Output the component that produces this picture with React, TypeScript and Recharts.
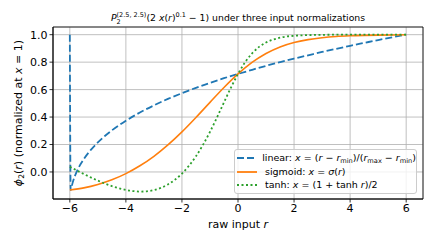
import React from "react";
import {
  LineChart,
  Line,
  XAxis,
  YAxis,
  CartesianGrid,
  ReferenceArea,
  Legend,
  Customized,
} from "recharts";

// values
const rLinear = [-6, -5.97, -5.9, -5.75, -5.5, -5.25, -5, -4.75, -4.5, -4, -3.5, -3, -2.5, -2, -1.5, -1, -0.5, 0, 0.5, 1, 1.5, 2, 2.5, 3, 3.5, 4, 4.5, 5, 5.5, 6];
const phiLinear = [1.0, -0.132, -0.078, 0.004, 0.094, 0.161, 0.215, 0.262, 0.303, 0.373, 0.433, 0.485, 0.532, 0.574, 0.613, 0.649, 0.683, 0.714, 0.744, 0.773, 0.8, 0.826, 0.85, 0.874, 0.897, 0.919, 0.94, 0.961, 0.981, 1.0];

const rSigmoid = [-6, -5.5, -5, -4.5, -4, -3.5, -3, -2.5, -2, -1.5, -1, -0.5, 0, 0.5, 1, 1.5, 2, 2.5, 3, 3.5, 4, 4.5, 5, 5.5, 6];
const phiSigmoid = [-0.132, -0.116, -0.091, -0.057, -0.012, 0.045, 0.114, 0.197, 0.292, 0.397, 0.507, 0.615, 0.714, 0.798, 0.863, 0.911, 0.943, 0.964, 0.978, 0.987, 0.992, 0.995, 0.997, 0.998, 0.999];

const rTanh = [-6, -5.5, -5, -4.5, -4, -3.75, -3.5, -3.25, -3, -2.5, -2, -1.75, -1.5, -1.25, -1, -0.75, -0.5, -0.25, 0, 0.25, 0.5, 0.75, 1, 1.25, 1.5, 1.75, 2, 2.5, 3, 3.5, 4, 5, 6];
const phiTanh = [0.038, -0.015, -0.063, -0.103, -0.131, -0.139, -0.143, -0.141, -0.132, -0.091, -0.012, 0.045, 0.114, 0.197, 0.292, 0.397, 0.507, 0.615, 0.714, 0.798, 0.863, 0.911, 0.943, 0.964, 0.978, 0.987, 0.992, 0.997, 0.999, 1.0, 1.0, 1.0, 1.0];

const xTicks = [-6, -4, -2, 0, 2, 4, 6];
const yTicks = [0, 0.2, 0.4, 0.6, 0.8, 1.0];

const X_DOMAIN: [number, number] = [-6.6, 6.6];
const Y_DOMAIN: [number, number] = [-0.197, 1.056];

const FONT = "DejaVu Sans";
const BLUE = "#1f77b4";
const ORANGE = "#ff7f0e";
const GREEN = "#2ca02c";

const toRows = (rs: number[], ys: number[]) => rs.map((r, i) => ({ r, phi: ys[i] }));
const linearData = toRows(rLinear, phiLinear);
const sigmoidData = toRows(rSigmoid, phiSigmoid);
const tanhData = toRows(rTanh, phiTanh);

const fmtX = (v: number) => (v < 0 ? "\u2212" + Math.abs(v) : String(v));
const fmtY = (v: number) => v.toFixed(1);

const Title = (props: any) => {
  const off = props.offset || { left: 53, width: 370 };
  const cx = off.left + off.width / 2;
  return (
    <text x={cx} y={21} textAnchor="middle" fontFamily={FONT} fontSize={9.3} fill="#000">
      <tspan fontStyle="italic">P</tspan>
      <tspan fontSize={6.5} dy={2.5}>2</tspan>
      <tspan fontSize={6.5} dx={-4.1} dy={-6.7}>(2.5, 2.5)</tspan>
      <tspan dy={4.2}>(2 </tspan>
      <tspan fontStyle="italic">x</tspan>
      <tspan>(</tspan>
      <tspan fontStyle="italic">r</tspan>
      <tspan>)</tspan>
      <tspan fontSize={6.5} dy={-3.6}>0.1</tspan>
      <tspan dy={3.6}> {"\u2212"} 1) under three input normalizations</tspan>
    </text>
  );
};

const XLabel = (props: any) => {
  const vb = props.viewBox;
  const cx = vb.x + vb.width / 2;
  return (
    <text x={cx} y={228} textAnchor="middle" fontFamily={FONT} fontSize={11} fill="#000">
      raw input <tspan fontStyle="italic">r</tspan>
    </text>
  );
};

const YLabel = (props: any) => {
  const vb = props.viewBox;
  const cy = vb.y + vb.height / 2;
  const x = 18;
  return (
    <text
      x={x}
      y={cy}
      transform={`rotate(-90, ${x}, ${cy})`}
      textAnchor="middle"
      dominantBaseline="central"
      fontFamily={FONT}
      fontSize={11}
      fill="#000"
    >
      <tspan fontStyle="italic">{"\u03d5"}</tspan>
      <tspan fontSize={7.7} dy={2.5}>2</tspan>
      <tspan dy={-2.5}>(</tspan>
      <tspan fontStyle="italic">r</tspan>
      <tspan>) (normalized at </tspan>
      <tspan fontStyle="italic">x</tspan>
      <tspan> = 1)</tspan>
    </text>
  );
};

const Sub = ({ children }: { children: React.ReactNode }) => (
  <span style={{ fontSize: "0.7em", position: "relative", top: "0.3em" }}>{children}</span>
);
const I = ({ children }: { children: React.ReactNode }) => <i>{children}</i>;

const legendRows = [
  {
    color: BLUE,
    dash: "7 3",
    text: (
      <>
        linear: <I>x</I> = (<I>r</I> {"\u2212"} <I>r</I>
        <Sub>min</Sub>)/(<I>r</I>
        <Sub>max</Sub> {"\u2212"} <I>r</I>
        <Sub>min</Sub>)
      </>
    ),
  },
  {
    color: ORANGE,
    dash: undefined,
    text: (
      <>
        sigmoid: <I>x</I> = <I>{"\u03c3"}</I>(<I>r</I>)
      </>
    ),
  },
  {
    color: GREEN,
    dash: "2 2.5",
    text: (
      <>
        tanh: <I>x</I> = (1 + tanh <I>r</I>)/2
      </>
    ),
  },
];

const LegendBox = () => (
  <div
    style={{
      width: 181,
      height: 42,
      border: "1px solid #cccccc",
      borderRadius: 3,
      background: "rgba(255,255,255,0.8)",
      fontFamily: FONT,
      fontSize: 9.5,
      color: "#000",
      paddingTop: 1,
    }}
  >
    {legendRows.map((row, i) => (
      <div key={i} style={{ display: "flex", alignItems: "center", height: 13.7, lineHeight: 1, whiteSpace: "nowrap" }}>
        <svg width={20} height={4} style={{ marginLeft: 2, marginRight: 8 }}>
          <line x1={0} y1={2} x2={20} y2={2} stroke={row.color} strokeWidth={1.8} strokeDasharray={row.dash} />
        </svg>
        <span>{row.text}</span>
      </div>
    ))}
  </div>
);

export default function App() {
  return (
    <div style={{ position: "absolute", left: 0, top: 0, width: 436, height: 244, background: "#fff" }}>
      <LineChart width={436} height={244} margin={{ top: 27, right: 13, left: 0, bottom: 0 }}>
        <CartesianGrid stroke="#b0b0b0" strokeWidth={0.8} />
        <XAxis
          type="number"
          dataKey="r"
          domain={X_DOMAIN}
          ticks={xTicks}
          allowDataOverflow
          height={45}
          tickFormatter={fmtX}
          tick={{ fontSize: 11, fill: "#000", fontFamily: FONT }}
          tickSize={3.5}
          tickMargin={2}
          axisLine={{ stroke: "#000", strokeWidth: 0.8 }}
          tickLine={{ stroke: "#000", strokeWidth: 0.8 }}
          label={{ content: XLabel }}
        />
        <YAxis
          type="number"
          domain={Y_DOMAIN}
          ticks={yTicks}
          allowDataOverflow
          width={53}
          tickFormatter={fmtY}
          tick={{ fontSize: 11, fill: "#000", fontFamily: FONT }}
          tickSize={3.5}
          tickMargin={2}
          axisLine={{ stroke: "#000", strokeWidth: 0.8 }}
          tickLine={{ stroke: "#000", strokeWidth: 0.8 }}
          label={{ content: YLabel }}
        />
        <ReferenceArea x1={X_DOMAIN[0]} x2={X_DOMAIN[1]} y1={Y_DOMAIN[0]} y2={Y_DOMAIN[1]} fill="none" stroke="#000" strokeWidth={0.8} />
        <Line data={linearData} dataKey="phi" type="monotone" stroke={BLUE} strokeWidth={1.8} strokeDasharray="7 3" dot={false} activeDot={false} isAnimationActive={false} name="linear" />
        <Line data={sigmoidData} dataKey="phi" type="monotone" stroke={ORANGE} strokeWidth={1.6} dot={false} activeDot={false} isAnimationActive={false} name="sigmoid" />
        <Line data={tanhData} dataKey="phi" type="monotone" stroke={GREEN} strokeWidth={1.8} strokeDasharray="2 2.5" dot={false} activeDot={false} isAnimationActive={false} name="tanh" />
        <Legend
          layout="vertical"
          align="center"
          verticalAlign="middle"
          content={LegendBox}
          wrapperStyle={{ left: 234, top: 149, width: 183, height: 44 }}
        />
        <Customized component={Title} />
      </LineChart>
    </div>
  );
}
